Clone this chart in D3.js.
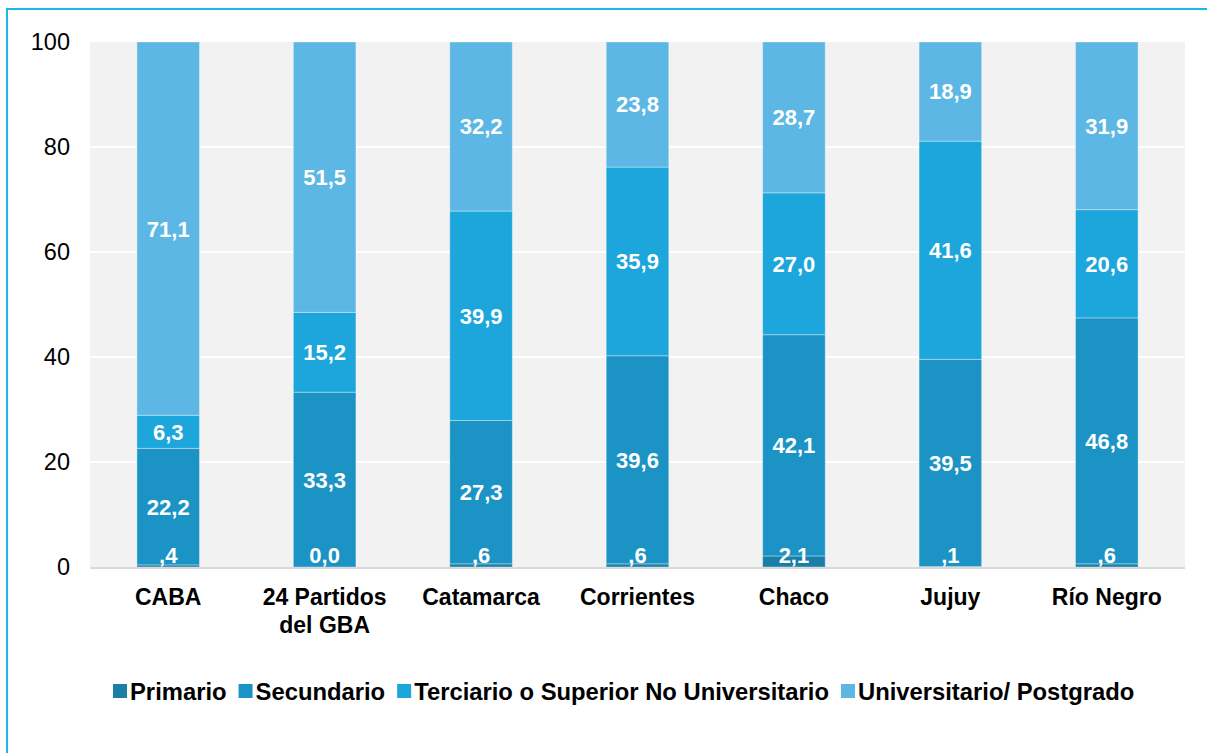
<!DOCTYPE html>
<html>
<head>
<meta charset="utf-8">
<script src="https://cdn.jsdelivr.net/npm/d3@7"></script>
<style>
    body { margin: 0; background: #fff; }
    svg { display: block; font-family: "Liberation Sans", Arial, sans-serif; }
</style>
</head>
<body>
<div id="chart"></div>
<script>
// Nivel educativo por jurisdicción (%)
const categories = ['CABA', '24 Partidos\ndel GBA', 'Catamarca', 'Corrientes', 'Chaco', 'Jujuy', 'Río Negro'];
const seriesNames = ['Primario', 'Secundario', 'Terciario o Superior No Universitario', 'Universitario/ Postgrado'];
const primario = [0.4, 0.0, 0.6, 0.6, 2.1, 0.1, 0.6];
const secundario = [22.2, 33.3, 27.3, 39.6, 42.1, 39.5, 46.8];
const terciario = [6.3, 15.2, 39.9, 35.9, 27.0, 41.6, 20.6];
const universitario = [71.1, 51.5, 32.2, 23.8, 28.7, 18.9, 31.9];
const yTicks = [0, 20, 40, 60, 80, 100];

const colors = ['#1a7fa7', '#1b93c5', '#1ca6db', '#5db7e5'];

const W = 1207, H = 753;
const margin = { left: 90, right: 22, top: 42, bottom: 186 };
const width = W - margin.left - margin.right;
const height = H - margin.top - margin.bottom;

const svg = d3.select('#chart').append('svg')
    .attr('width', W)
    .attr('height', H);

// outer frame
svg.append('rect')
    .attr('x', 7).attr('y', 9)
    .attr('width', W + 20).attr('height', H + 20)
    .attr('fill', 'none')
    .attr('stroke', '#1fb4ea')
    .attr('stroke-width', 2);

const g = svg.append('g').attr('transform', `translate(${margin.left},${margin.top})`);

const rows = categories.map((c, i) => {
    const vals = [primario[i], secundario[i], terciario[i], universitario[i]];
    const total = d3.sum(vals);
    const row = { cat: c, raw: vals };
    vals.forEach((v, j) => row['s' + j] = v / total * 100);
    return row;
});

const keys = ['s0', 's1', 's2', 's3'];
const stacked = d3.stack().keys(keys)(rows);

const x = d3.scaleBand().domain(categories).range([0, width]).paddingInner(0.6).paddingOuter(0.3);
const y = d3.scaleLinear().domain([0, 100]).range([height, 0]);

// plot background
g.append('rect')
    .attr('width', width).attr('height', height)
    .attr('fill', '#f2f2f2');

// gridlines
g.append('g')
    .selectAll('line')
    .data(yTicks.filter(t => t > 0 && t < 100))
    .enter().append('line')
    .attr('x1', 0).attr('x2', width)
    .attr('y1', d => y(d)).attr('y2', d => y(d))
    .attr('stroke', '#ffffff')
    .attr('stroke-width', 2);

// bars
const layers = g.selectAll('.layer')
    .data(stacked)
    .enter().append('g')
    .attr('fill', (d, i) => colors[i]);

layers.selectAll('rect')
    .data(d => d.map(p => ({ p, cat: p.data.cat })))
    .enter().append('rect')
    .attr('x', d => x(d.cat))
    .attr('width', x.bandwidth())
    .attr('y', d => y(d.p[1]))
    .attr('height', d => y(d.p[0]) - y(d.p[1]))
    .attr('stroke', 'rgba(255,255,255,0.35)')
    .attr('stroke-width', 1);

// x axis baseline
g.append('line')
    .attr('x1', 0).attr('x2', width)
    .attr('y1', height + 1).attr('y2', height + 1)
    .attr('stroke', '#d9d9d9')
    .attr('stroke-width', 2);

// data labels
const fmt = v => {
    let s = d3.format('.1f')(v).replace('.', ',');
    if (v > 0 && v < 1) s = s.replace(/^0/, '');
    return s;
};

stacked.forEach((layer, j) => {
    g.append('g').selectAll('text')
        .data(layer)
        .enter().append('text')
        .attr('x', d => x(d.data.cat) + x.bandwidth() / 2)
        .attr('y', d => Math.min(y((d[0] + d[1]) / 2), height - 12))
        .attr('dy', '0.36em')
        .attr('text-anchor', 'middle')
        .attr('fill', '#ffffff')
        .style('font-size', '22px')
        .style('font-weight', 'bold')
        .text(d => fmt(d.data.raw[j]));
});

// y axis labels
g.append('g').selectAll('text')
    .data(yTicks)
    .enter().append('text')
    .attr('x', -20)
    .attr('y', d => y(d))
    .attr('dy', '0.36em')
    .attr('text-anchor', 'end')
    .style('font-size', '23.5px')
    .attr('fill', '#000')
    .text(d => d);

// category labels
const catText = g.append('g').selectAll('text')
    .data(categories)
    .enter().append('text')
    .attr('x', d => x(d) + x.bandwidth() / 2)
    .attr('y', height + 38)
    .attr('text-anchor', 'middle')
    .style('font-size', '23px')
    .style('font-weight', 'bold')
    .attr('fill', '#000');

catText.each(function(d) {
    const t = d3.select(this);
    d.split('\n').forEach((line, k) => {
        t.append('tspan')
            .attr('x', x(d) + x.bandwidth() / 2)
            .attr('dy', k === 0 ? 0 : 28)
            .text(line);
    });
});

// legend
const legend = svg.append('g').attr('transform', 'translate(0, 691)');
let lx = 113;
seriesNames.forEach((name, i) => {
    const item = legend.append('g').attr('transform', `translate(${lx}, 0)`);
    item.append('rect')
        .attr('x', 0).attr('y', -7)
        .attr('width', 14).attr('height', 14)
        .attr('fill', colors[i]);
    const t = item.append('text')
        .attr('x', 17).attr('y', 0)
        .attr('dy', '0.36em')
        .style('font-size', '23.8px')
        .style('font-weight', 'bold')
        .attr('fill', '#000')
        .text(name);
    lx += 17 + t.node().getComputedTextLength() + 12;
});
</script>
</body>
</html>
